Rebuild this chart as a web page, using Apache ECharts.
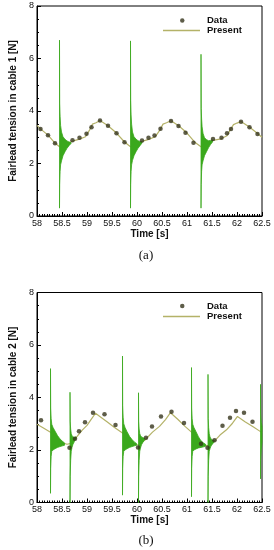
<!DOCTYPE html>
<html><head><meta charset="utf-8">
<script src="https://cdn.jsdelivr.net/npm/echarts@6/dist/echarts.min.js"></script>
<style>html,body{margin:0;padding:0;background:#fff}#c{width:274px;height:550px}</style>
</head><body><div id="c"></div>
<script>
// ---- tick labels ----
const xTickLabels = ['58','58.5','59','59.5','60','60.5','61','61.5','62','62.5'];
const yTickLabels = ['0','2','4','6','8'];

// ---- panel (a): cable 1 ----
const dataTimeA = [58.07,58.22,58.36,58.71,58.85,58.99,59.09,59.26,59.42,59.59,59.75,60.10,60.23,60.35,60.47,60.68,60.83,60.97,61.13,61.52,61.69,61.80,61.88,62.08,62.25,62.41];
const dataValA  = [3.31,3.08,2.77,2.89,2.98,3.13,3.38,3.64,3.44,3.15,2.81,2.88,2.98,3.07,3.32,3.62,3.43,3.17,2.79,2.93,2.98,3.15,3.31,3.59,3.38,3.12];
const presTimeA = [58.00,58.07,58.22,58.36,58.45,58.57,58.71,58.85,58.97,59.05,59.11,59.18,59.26,59.42,59.59,59.75,59.87,59.99,60.12,60.25,60.37,60.46,60.52,60.59,60.68,60.84,61.00,61.15,61.28,61.40,61.52,61.68,61.80,61.87,61.93,62.00,62.08,62.24,62.40,62.50];
const presValA  = [3.45,3.32,3.08,2.78,2.64,2.74,2.85,2.93,3.02,3.27,3.50,3.55,3.64,3.44,3.16,2.82,2.64,2.74,2.85,2.93,3.03,3.28,3.50,3.55,3.63,3.43,3.16,2.82,2.64,2.76,2.88,2.94,3.06,3.30,3.48,3.54,3.60,3.40,3.16,3.00];
// high-frequency bursts: [time, lower envelope, upper envelope]
const burstsA = [
  [[58.45,0.3,6.7],[58.454,1.2,4.3],[58.462,1.7,3.8],[58.472,1.95,3.45],[58.49,2.1,3.2],[58.52,2.3,3.02],[58.56,2.45,2.92],[58.60,2.58,2.86],[58.64,2.68,2.82],[58.68,2.76,2.8]],
  [[59.87,0.3,6.67],[59.874,1.2,4.4],[59.882,1.7,3.85],[59.892,1.95,3.5],[59.91,2.12,3.2],[59.94,2.3,3.02],[59.98,2.45,2.93],[60.02,2.58,2.87],[60.06,2.68,2.84],[60.10,2.78,2.83]],
  [[61.28,0.3,6.16],[61.284,1.2,4.1],[61.292,1.7,3.7],[61.302,1.95,3.4],[61.32,2.1,3.15],[61.35,2.3,2.98],[61.39,2.45,2.91],[61.43,2.6,2.87],[61.47,2.72,2.88],[61.51,2.82,2.9]]
];

// ---- panel (b): cable 2 ----
const dataTimeB = [58.08,58.65,58.76,58.84,58.96,59.12,59.35,59.57,60.02,60.18,60.30,60.48,60.69,60.94,61.28,61.41,61.55,61.71,61.86,61.98,62.14,62.31];
const dataValB  = [3.13,2.09,2.43,2.71,3.06,3.42,3.36,2.95,2.10,2.47,2.90,3.28,3.46,3.03,2.24,2.09,2.37,2.92,3.23,3.49,3.42,3.08];
const presTimeB = [58.00,58.12,58.27,58.40,58.50,58.60,58.66,58.77,58.90,59.00,59.08,59.17,59.27,59.40,59.55,59.71,59.85,59.98,60.03,60.16,60.31,60.45,60.57,60.67,60.82,60.96,61.09,61.20,61.30,61.42,61.53,61.66,61.79,61.91,62.01,62.16,62.33,62.47,62.50];
const presValB  = [2.98,2.85,2.68,2.42,2.28,2.22,2.24,2.44,2.75,2.94,3.16,3.40,3.26,3.08,2.86,2.65,2.34,2.20,2.20,2.38,2.68,2.90,3.16,3.42,3.16,2.90,2.68,2.42,2.22,2.16,2.30,2.57,2.77,3.02,3.28,3.08,2.88,2.70,2.66];
const burstsB = [
  [[58.27,0.35,5.1],[58.274,1.3,3.6],[58.283,1.75,3.2],[58.295,1.95,2.98],[58.32,2.0,2.86],[58.36,2.05,2.72],[58.41,2.1,2.55],[58.46,2.13,2.42],[58.51,2.16,2.33],[58.55,2.18,2.27]],
  [[58.66,0.0,4.2],[58.664,1.0,3.1],[58.673,1.6,2.8],[58.685,1.95,2.62],[58.70,2.1,2.55],[58.72,2.22,2.5],[58.75,2.33,2.48],[58.78,2.45,2.5]],
  [[59.71,0.28,5.58],[59.714,1.3,3.7],[59.723,1.75,3.25],[59.735,1.95,3.0],[59.76,2.0,2.86],[59.80,2.05,2.7],[59.85,2.1,2.52],[59.90,2.13,2.4],[59.95,2.16,2.3],[59.99,2.18,2.25]],
  [[60.03,0.0,4.18],[60.034,1.0,3.1],[60.043,1.6,2.8],[60.055,1.95,2.62],[60.07,2.08,2.55],[60.09,2.2,2.5],[60.12,2.3,2.47],[60.15,2.38,2.45]],
  [[61.09,0.22,5.14],[61.094,1.3,3.6],[61.103,1.75,3.2],[61.115,1.95,2.98],[61.14,2.0,2.85],[61.18,2.04,2.7],[61.23,2.08,2.5],[61.28,2.1,2.35],[61.33,2.12,2.27],[61.37,2.14,2.22]],
  [[61.42,0.0,4.88],[61.424,1.0,3.2],[61.433,1.6,2.85],[61.445,1.95,2.62],[61.46,2.05,2.5],[61.48,2.15,2.42],[61.51,2.23,2.38],[61.54,2.3,2.38]],
  [[62.47,0.9,4.5],[62.474,1.6,3.4],[62.485,2.0,3.05],[62.495,2.2,2.95],[62.5,2.3,2.9]]
];

const GREEN = '#3aa81c', OLIVE = '#b4b268', DOT = '#36351b';
const FONT = 'Liberation Sans';

const zip = (a, b) => a.map((v, i) => [v, b[i]]);

function xAxisCfg(gi) {
  return {
    gridIndex: gi, type: 'value', min: 58, max: 62.5, interval: 0.5,
    name: 'Time [s]', nameLocation: 'middle', nameGap: 13,
    nameTextStyle: {fontFamily: FONT, fontWeight: 'bold', fontSize: 10, color: '#111'},
    axisLine: {show: true, onZero: false, lineStyle: {color: '#000', width: 1}},
    axisTick: {show: true, inside: true, length: 4, lineStyle: {color: '#000'}},
    minorTick: {show: true, splitNumber: 10, length: 2, lineStyle: {color: '#000'}},
    splitLine: {show: false},
    axisLabel: {fontFamily: FONT, fontSize: 9, color: '#111', margin: 3,
      formatter: v => xTickLabels[Math.round((v - 58) / 0.5)]}
  };
}
function yAxisCfg(gi, name) {
  return {
    gridIndex: gi, type: 'value', min: 0, max: 8, interval: 2,
    name: name, nameLocation: 'middle', nameGap: 19,
    nameTextStyle: {fontFamily: FONT, fontWeight: 'bold', fontSize: 10, color: '#111'},
    axisLine: {show: true, onZero: false, lineStyle: {color: '#000', width: 1}},
    axisTick: {show: true, inside: true, length: 4, lineStyle: {color: '#000'}},
    minorTick: {show: true, splitNumber: 4, length: 2, lineStyle: {color: '#000'}},
    splitLine: {show: false},
    axisLabel: {fontFamily: FONT, fontSize: 9, color: '#111', margin: 3,
      formatter: v => yTickLabels[Math.round(v / 2)]}
  };
}
function burstRender(bursts) {
  return function (params, api) {
    const b = bursts[params.dataIndex];
    const up = b.map(p => api.coord([p[0], p[2]]));
    const lo = b.slice().reverse().map(p => api.coord([p[0], p[1]]));
    return {type: 'polygon', shape: {points: up.concat(lo)},
      style: {fill: GREEN, stroke: GREEN, lineWidth: 0.8}};
  };
}
function panelSeries(gi, pt, pv, bursts, dt, dv) {
  return [
    {name: 'Present', type: 'line', xAxisIndex: gi, yAxisIndex: gi, data: zip(pt, pv),
      symbol: 'none', showSymbol: false, smooth: false, lineStyle: {color: OLIVE, width: 1.2}, itemStyle: {color: OLIVE}, z: 2},
    {name: 'burst', type: 'custom', xAxisIndex: gi, yAxisIndex: gi,
      data: bursts.map(b => [b[0][0], b[0][2]]), encode: {x: 0, y: 1},
      renderItem: burstRender(bursts), z: 3, silent: true},
    {name: 'Data', type: 'scatter', xAxisIndex: gi, yAxisIndex: gi, data: zip(dt, dv),
      symbol: 'circle', symbolSize: 4.5, itemStyle: {color: DOT}, z: 4}
  ];
}
const legText = {fontFamily: FONT, fontWeight: 'bold', fontSize: 9.5, color: '#111', lineHeight: 10};
function legends(dotY, lineY) {
  return [
    {data: ['Data'], orient: 'vertical', left: 180, top: dotY - 5, padding: 0, icon: 'circle',
      itemWidth: 4.5, itemHeight: 4.5, selectedMode: false,
      textStyle: Object.assign({}, legText, {padding: [0, 0, 0, 17.5]})},
    {data: [{name: 'Present', icon: 'rect', itemStyle: {color: OLIVE}}], orient: 'vertical', left: 163, top: lineY - 5, padding: 0,
      itemWidth: 37, itemHeight: 1.4, selectedMode: false,
      textStyle: Object.assign({}, legText, {padding: [0, 0, 0, 2]})}
  ];
}

const chart = echarts.init(document.getElementById('c'), null, {renderer: 'canvas'});
chart.setOption({
  backgroundColor: '#fff',
  animation: false,
  grid: [
    {left: 32, right: 12, top: 6, height: 210, show: true, borderColor: '#000', borderWidth: 1, backgroundColor: 'transparent'},
    {left: 32, right: 12, top: 292.5, height: 210, show: true, borderColor: '#000', borderWidth: 1, backgroundColor: 'transparent'}
  ],
  xAxis: [xAxisCfg(0), xAxisCfg(1)],
  yAxis: [yAxisCfg(0, 'Fairlead tension in cable 1 [N]'), yAxisCfg(1, 'Fairlead tension in cable 2 [N]')],
  legend: legends(20.5, 30.5).concat(legends(306, 316.5)),
  graphic: [
    {type: 'text', x: 146, y: 256, style: {text: '(a)', textAlign: 'center', textVerticalAlign: 'middle', font: '13px "Liberation Serif"', fill: '#111'}},
    {type: 'text', x: 146, y: 541, style: {text: '(b)', textAlign: 'center', textVerticalAlign: 'middle', font: '13px "Liberation Serif"', fill: '#111'}}
  ],
  series: panelSeries(0, presTimeA, presValA, burstsA, dataTimeA, dataValA)
    .concat(panelSeries(1, presTimeB, presValB, burstsB, dataTimeB, dataValB))
});
</script></body></html>
